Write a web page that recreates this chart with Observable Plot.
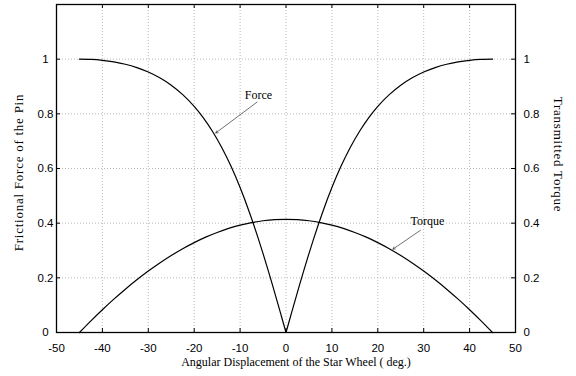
<!DOCTYPE html>
<html>
<head>
<meta charset="utf-8">
<script src="https://cdn.jsdelivr.net/npm/d3@7"></script>
<script src="https://cdn.jsdelivr.net/npm/@observablehq/plot@0.6"></script>
<style>
  html, body { margin: 0; padding: 0; background: white; }
</style>
</head>
<body>
<div id="chart"></div>
<script>
// Angular displacement (deg) and frictional force of the pin
const forceAngles = [-45, -42.5, -40, -37.5, -35, -32.5, -30, -27.5, -25, -22.5, -20, -18, -16, -14, -12, -10, -8, -6, -5, -4, -3, -2, -1, 0,
                     0, 1, 2, 3, 4, 5, 6, 8, 10, 12, 14, 16, 18, 20, 22.5, 25, 27.5, 30, 32.5, 35, 37.5, 40, 42.5, 45];
const forceValues = [1, 0.999, 0.9958, 0.9901, 0.9815, 0.9693, 0.953, 0.9318, 0.9046, 0.8701, 0.8269, 0.7849, 0.7352, 0.6767, 0.6087, 0.5302, 0.4411, 0.3418, 0.2887, 0.2335, 0.1767, 0.1186, 0.0595, 0,
                     0, 0.0595, 0.1186, 0.1767, 0.2335, 0.2887, 0.3418, 0.4411, 0.5302, 0.6087, 0.6767, 0.7352, 0.7849, 0.8269, 0.8701, 0.9046, 0.9318, 0.953, 0.9693, 0.9815, 0.9901, 0.9958, 0.999, 1];
const forceBranch = ["L","L","L","L","L","L","L","L","L","L","L","L","L","L","L","L","L","L","L","L","L","L","L","L",
                     "R","R","R","R","R","R","R","R","R","R","R","R","R","R","R","R","R","R","R","R","R","R","R","R"];

// Transmitted torque
const torqueAngles = [-45, -42.5, -40, -37.5, -35, -32.5, -30, -27.5, -25, -22.5, -20, -17.5, -15, -12.5, -10, -7.5, -5, -2.5, 0,
                      2.5, 5, 7.5, 10, 12.5, 15, 17.5, 20, 22.5, 25, 27.5, 30, 32.5, 35, 37.5, 40, 42.5, 45];
const torqueValues = [0, 0.0427, 0.0834, 0.122, 0.1585, 0.1927, 0.2247, 0.2544, 0.2817, 0.3066, 0.3289, 0.3488, 0.366, 0.3807, 0.3927, 0.4021, 0.4088, 0.4129, 0.4142,
                      0.4129, 0.4088, 0.4021, 0.3927, 0.3807, 0.366, 0.3488, 0.3289, 0.3066, 0.2817, 0.2544, 0.2247, 0.1927, 0.1585, 0.122, 0.0834, 0.0427, 0];

// Ticks
const xTickLabels = [-50, -40, -30, -20, -10, 0, 10, 20, 30, 40, 50];
const xInnerTicks = [-40, -30, -20, -10, 0, 10, 20, 30, 40];
const yTickLabels = [0, 0.2, 0.4, 0.6, 0.8, 1];
const yGrid = [0.2, 0.4, 0.6, 0.8, 1];

// Annotations
const labelNames = ["Force", "Torque"];
const labelX = [-6.0, 30.8];
const labelY = [0.867, 0.407];
const arrowFromX = [-6.3, 29.3];
const arrowFromY = [0.843, 0.374];
const arrowToX = [-15.3, 23.3];
const arrowToY = [0.73, 0.305];

const forceData = forceAngles.map((a, i) => ({a, v: forceValues[i], z: forceBranch[i]}));
const torqueData = torqueAngles.map((a, i) => ({a, v: torqueValues[i]}));
const annot = labelNames.map((name, i) => ({name, x: labelX[i], y: labelY[i], x1: arrowFromX[i], y1: arrowFromY[i], x2: arrowToX[i], y2: arrowToY[i]}));

const serif = "'Liberation Serif', 'Times New Roman', serif";
const tickLenX = 0.0146; // ~4px in y units
const tickLenY = 0.87;   // ~4px in x units
const leftTitle = "Frictional Force of the Pin";
const rightTitle = "Transmitted Torque";

const chart = Plot.plot({
  width: 576,
  height: 376,
  marginLeft: 56,
  marginRight: 61,
  marginTop: 4,
  marginBottom: 44,
  style: {background: "white", fontFamily: "'Liberation Sans', Arial, sans-serif", fontSize: "11.5px", color: "black"},
  x: {domain: [-50, 50]},
  y: {domain: [0, 1.2]},
  marks: [
    Plot.ruleX(xInnerTicks, {x: d => d, stroke: "#aaa", strokeWidth: 0.8, strokeDasharray: "1,2"}),
    Plot.ruleY(yGrid, {y: d => d, stroke: "#aaa", strokeWidth: 0.8, strokeDasharray: "1,2"}),
    // inner tick marks
    Plot.ruleX(xInnerTicks, {x: d => d, y1: 0, y2: tickLenX, stroke: "black", strokeWidth: 1}),
    Plot.ruleX(xInnerTicks, {x: d => d, y1: 1.2, y2: 1.2 - tickLenX, stroke: "black", strokeWidth: 1}),
    Plot.ruleY(yTickLabels, {y: d => d, x1: -50, x2: -50 + tickLenY, stroke: "black", strokeWidth: 1}),
    Plot.ruleY(yTickLabels, {y: d => d, x1: 50, x2: 50 - tickLenY, stroke: "black", strokeWidth: 1}),
    Plot.axisX(xTickLabels, {anchor: "bottom", tickSize: 0, tickPadding: 11, tickFormat: d => String(d), label: null, fontSize: 11.5}),
    Plot.axisY(yTickLabels, {anchor: "left", tickSize: 0, tickPadding: 11, textAnchor: "middle", tickFormat: d => String(d), label: null, fontSize: 11.5}),
    Plot.axisY(yTickLabels, {anchor: "right", tickSize: 0, tickPadding: 8, tickFormat: d => String(d), label: null, fontSize: 11.5}),
    Plot.line(forceData, {x: "a", y: "v", z: "z", curve: "monotone-x", stroke: "black", strokeWidth: 1.2}),
    Plot.line(torqueData, {x: "a", y: "v", curve: "monotone-x", stroke: "black", strokeWidth: 1.2}),
    Plot.arrow(annot, {x1: "x1", y1: "y1", x2: "x2", y2: "y2", stroke: "#333", strokeWidth: 0.7, headLength: 5}),
    Plot.text(annot, {x: "x", y: "y", text: "name", fontFamily: serif, fontSize: 12, fill: "black"}),
    Plot.text(["Angular Displacement of the Star Wheel ( deg.)"], {frameAnchor: "bottom", lineAnchor: "middle", textAnchor: "middle", dx: 10, dy: 30, fontFamily: serif, fontSize: 12, fill: "black"}),
    Plot.text([leftTitle], {frameAnchor: "left", lineAnchor: "middle", textAnchor: "middle", dx: -38, dy: 4, rotate: -90, fontFamily: serif, fontSize: 13, fill: "black"}),
    Plot.text([rightTitle], {frameAnchor: "right", lineAnchor: "middle", textAnchor: "middle", dx: 43, dy: -14, rotate: 90, fontFamily: serif, fontSize: 13, fill: "black"}),
    Plot.frame({stroke: "black", strokeWidth: 1.3})
  ]
});
d3.select(chart).selectAll("text")
  .filter(function() { return this.textContent === leftTitle || this.textContent === rightTitle; })
  .style("letter-spacing", "0.75px");
document.getElementById("chart").appendChild(chart);
</script>
</body>
</html>
